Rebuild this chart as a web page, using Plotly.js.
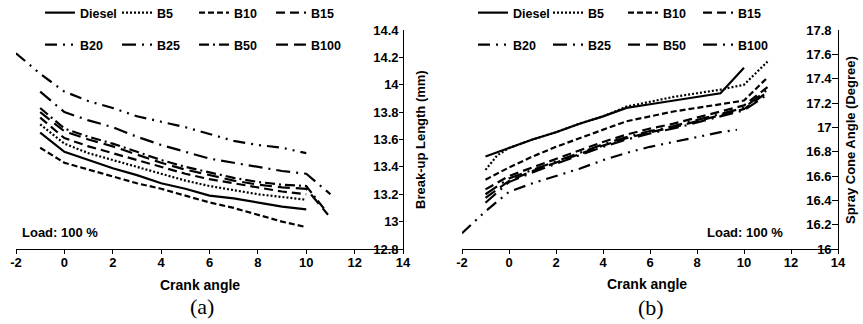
<!DOCTYPE html>
<html>
<head>
<meta charset="utf-8">
<script src="https://cdn.plot.ly/plotly-3.0.1.min.js"></script>
<style>html,body{margin:0;padding:0;background:#fff;}#chart{width:863px;height:324px;}</style>
</head>
<body>
<div id="chart"></div>
<script>
// ---------- Data: (a) Break-up length (mm) vs crank angle ----------
var xA = [-1, 0, 1, 2, 3, 4, 5, 6, 7, 8, 9, 10];
var aDiesel = [13.65, 13.51, 13.45, 13.39, 13.34, 13.28, 13.24, 13.19, 13.17, 13.14, 13.11, 13.09];
var aB5     = [13.71, 13.57, 13.50, 13.45, 13.40, 13.35, 13.30, 13.26, 13.23, 13.20, 13.18, 13.16];
var aB10    = [13.54, 13.43, 13.38, 13.33, 13.28, 13.24, 13.19, 13.14, 13.10, 13.05, 13.00, 12.96];
var aB15    = [13.76, 13.61, 13.55, 13.50, 13.45, 13.40, 13.35, 13.31, 13.28, 13.25, 13.22, 13.20];
var xA20    = [-2, -1, 0, 1, 2, 3, 4, 5, 6, 7, 8, 9, 10];
var aB20    = [14.23, 14.08, 13.95, 13.88, 13.83, 13.77, 13.73, 13.69, 13.64, 13.59, 13.56, 13.54, 13.50];
var xA25    = [-1, 0, 1, 2, 3, 4, 5, 6, 7, 8, 9, 10, 11];
var aB25    = [13.95, 13.80, 13.74, 13.69, 13.62, 13.56, 13.51, 13.46, 13.43, 13.40, 13.37, 13.35, 13.20];
var xA50    = [-1, 0, 1, 2, 3, 4, 5, 6, 7, 8, 9, 10, 10.8];
var aB50    = [13.83, 13.68, 13.62, 13.57, 13.51, 13.45, 13.40, 13.36, 13.32, 13.29, 13.27, 13.26, 13.08];
var xA100   = [-1, 0, 1, 2, 3, 4, 5, 6, 7, 8, 9, 10, 10.9];
var aB100   = [13.80, 13.66, 13.60, 13.55, 13.49, 13.43, 13.38, 13.34, 13.30, 13.27, 13.25, 13.24, 13.05];

// ---------- Data: (b) Spray cone angle (degree) vs crank angle ----------
var xB = [-1, 0, 1, 2, 3, 4, 5, 6, 7, 8, 9, 10];
var bDiesel = [16.76, 16.83, 16.90, 16.96, 17.03, 17.09, 17.16, 17.19, 17.22, 17.25, 17.28, 17.49];
var xB5     = [-1, -0.5, 0, 1, 2, 3, 4, 5, 6, 7, 8, 9, 10, 11];
var bB5     = [16.65, 16.77, 16.83, 16.90, 16.96, 17.03, 17.09, 17.17, 17.21, 17.25, 17.28, 17.31, 17.35, 17.54];
var xBext   = [-1, 0, 1, 2, 3, 4, 5, 6, 7, 8, 9, 10, 11];
var bB10    = [16.57, 16.67, 16.76, 16.84, 16.91, 16.98, 17.05, 17.09, 17.13, 17.16, 17.19, 17.22, 17.41];
var bB15    = [16.49, 16.60, 16.67, 16.74, 16.81, 16.88, 16.94, 16.99, 17.03, 17.08, 17.13, 17.18, 17.33];
var xB20    = [-2, -1, 0, 1, 2, 3, 4, 5, 6, 7, 8, 9, 9.7];
var bB20    = [16.13, 16.31, 16.47, 16.54, 16.60, 16.66, 16.73, 16.79, 16.84, 16.88, 16.92, 16.96, 16.98];
var bB25    = [16.45, 16.58, 16.65, 16.72, 16.79, 16.86, 16.92, 16.97, 17.01, 17.06, 17.11, 17.16, 17.31];
var bB50    = [16.42, 16.56, 16.64, 16.71, 16.78, 16.85, 16.91, 16.96, 17.00, 17.05, 17.10, 17.15, 17.29];
var bB100   = [16.38, 16.55, 16.63, 16.70, 16.77, 16.84, 16.90, 16.95, 16.99, 17.04, 17.09, 17.14, 17.27];

var xTicks = [-2, 0, 2, 4, 6, 8, 10, 12, 14];

// ---------- Styles ----------
var W = 863, H = 324;
var FONT = 'Liberation Sans, Arial, sans-serif';
var LW = 2.2;
var dashA = {Diesel:'solid', B5:'2px,2px', B10:'6px,3px', B15:'9px,5px',
             B20:'12px,6px,2px,6px,2px,6px', B25:'14px,6px,2px,6px', B50:'10px,4px,2px,4px', B100:'12px,6px'};
var dashB = {Diesel:'solid', B5:'2px,2px', B10:'6px,3px', B15:'9px,5px',
             B20:'12px,6px,2px,6px,2px,6px', B25:'14px,6px,2px,6px', B50:'12px,6px', B100:'14px,6px,2px,6px'};

function tr(x, y, name, dash, xa, ya, leg) {
  return {x: x, y: y, name: name, type: 'scatter', mode: 'lines',
          line: {color: '#000', width: LW, dash: dash},
          xaxis: xa, yaxis: ya, legend: leg, hoverinfo: 'skip'};
}

var data = [
  tr(xA, aDiesel, 'Diesel', dashA.Diesel, 'x', 'y', 'legend'),
  tr(xA, aB5, 'B5', dashA.B5, 'x', 'y', 'legend'),
  tr(xA, aB10, 'B10', dashA.B10, 'x', 'y', 'legend'),
  tr(xA, aB15, 'B15', dashA.B15, 'x', 'y', 'legend'),
  tr(xA20, aB20, 'B20', dashA.B20, 'x', 'y', 'legend2'),
  tr(xA25, aB25, 'B25', dashA.B25, 'x', 'y', 'legend2'),
  tr(xA50, aB50, 'B50', dashA.B50, 'x', 'y', 'legend2'),
  tr(xA100, aB100, 'B100', dashA.B100, 'x', 'y', 'legend2'),

  tr(xB, bDiesel, 'Diesel', dashB.Diesel, 'x2', 'y2', 'legend3'),
  tr(xB5, bB5, 'B5', dashB.B5, 'x2', 'y2', 'legend3'),
  tr(xBext, bB10, 'B10', dashB.B10, 'x2', 'y2', 'legend3'),
  tr(xBext, bB15, 'B15', dashB.B15, 'x2', 'y2', 'legend3'),
  tr(xB20, bB20, 'B20', dashB.B20, 'x2', 'y2', 'legend4'),
  tr(xBext, bB25, 'B25', dashB.B25, 'x2', 'y2', 'legend4'),
  tr(xBext, bB50, 'B50', dashB.B50, 'x2', 'y2', 'legend4'),
  tr(xBext, bB100, 'B100', dashB.B100, 'x2', 'y2', 'legend4')
];

function px(v) { return v / W; }
function py(v) { return 1 - v / H; }

var tickFont = {family: FONT, size: 13, color: '#000', weight: 'bold'};
function xAxis(dom, anchor) {
  return {domain: dom, anchor: anchor, range: [-2, 14], tickvals: xTicks, ticktext: xTicks.map(String),
          showgrid: false, zeroline: false, showline: true, linecolor: '#000', linewidth: 1,
          ticks: 'outside', ticklen: 4, tickcolor: '#000', tickfont: tickFont, fixedrange: true,
          ticklabelstandoff: -3, ticklabeloverflow: 'allow', automargin: false};
}
function yAxis(range, dtick, anchor, tl) {
  return {domain: [py(249), py(30)], anchor: anchor, side: 'right', range: range, dtick: dtick, tick0: range[0],
          showgrid: false, zeroline: false, showline: true, linecolor: '#000', linewidth: 1,
          ticks: 'inside', ticklen: tl, tickcolor: '#000', ticklabelposition: 'inside',
          ticklabeloverflow: 'allow', automargin: false,
          tickfont: tickFont, fixedrange: true};
}
function legendRow(x, y, ew) {
  return {orientation: 'h', x: x, y: y, xanchor: 'left', yanchor: 'middle',
          entrywidth: ew, entrywidthmode: 'pixels', bgcolor: 'rgba(0,0,0,0)', borderwidth: 0,
          font: {family: FONT, size: 12.5, color: '#000', weight: 'bold'}, traceorder: 'normal',
          itemclick: false, itemdoubleclick: false};
}

function ann(x, y, text, size, extra) {
  var a = {xref: 'paper', yref: 'paper', x: px(x), y: py(y), text: text, showarrow: false,
           xanchor: 'center', yanchor: 'middle',
           font: {family: FONT, size: size, color: '#000', weight: 'bold'}};
  for (var k in extra) a[k] = extra[k];
  return a;
}

var layout = {
  width: W, height: H, margin: {l: 0, r: 0, t: 0, b: 0, pad: 0, autoexpand: false},
  paper_bgcolor: '#fff', plot_bgcolor: '#fff',
  xaxis: xAxis([px(16), px(403)], 'y'),
  yaxis: yAxis([12.8, 14.4], 0.2, 'x', 4),
  xaxis2: xAxis([px(462), px(838)], 'y2'),
  yaxis2: yAxis([16, 17.8], 0.2, 'x2', 6),
  legend: legendRow(px(40), py(13), 32),
  legend2: legendRow(px(40), py(45), 32),
  legend3: legendRow(px(473), py(13), 30),
  legend4: legendRow(px(473), py(45), 30),
  annotations: [
    ann(200, 285, 'Crank angle', 14),
    ann(647, 284, 'Crank angle', 14),
    ann(421, 140, 'Break-up Length (mm)', 13, {textangle: -90}),
    ann(851, 140, 'Spray Cone Angle (Degree)', 13, {textangle: -90}),
    ann(60, 232, 'Load: 100 %', 13),
    ann(745, 232, 'Load: 100 %', 13),
    {xref: 'paper', yref: 'paper', x: px(202), y: py(306), text: '(a)', showarrow: false,
     xanchor: 'center', yanchor: 'middle', font: {family: 'Liberation Serif, Times New Roman, serif', size: 22, color: '#000'}},
    {xref: 'paper', yref: 'paper', x: px(651), y: py(307), text: '(b)', showarrow: false,
     xanchor: 'center', yanchor: 'middle', font: {family: 'Liberation Serif, Times New Roman, serif', size: 22, color: '#000'}}
  ]
};

Plotly.newPlot('chart', data, layout, {displayModeBar: false, staticPlot: true});
</script>
</body>
</html>
